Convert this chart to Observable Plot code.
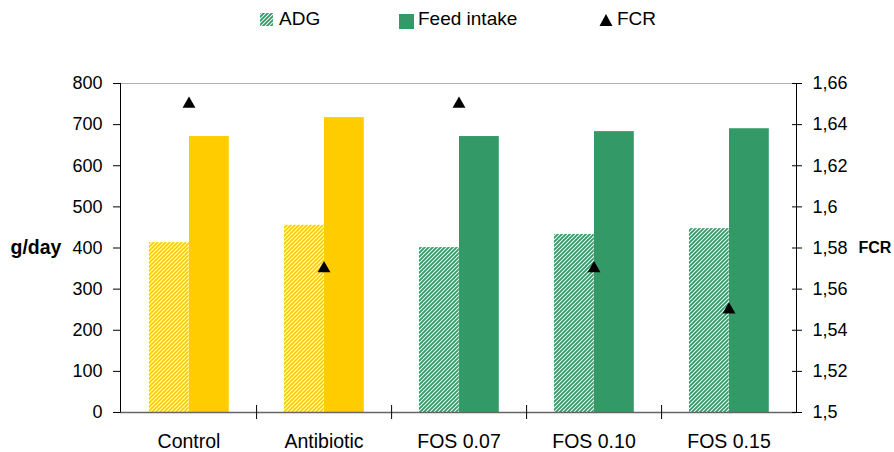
<!DOCTYPE html>
<html>
<head>
<meta charset="utf-8">
<script src="https://cdn.jsdelivr.net/npm/d3@7"></script>
<script src="https://cdn.jsdelivr.net/npm/@observablehq/plot@0.6"></script>
<style>
  html, body { margin: 0; padding: 0; background: #fff; }
  body { width: 894px; height: 452px; overflow: hidden; font-family: "Liberation Sans", Arial, sans-serif; }
  #legend { position: relative; height: 36px; width: 894px; font-size: 19px; color: #000; }
  #legend svg { position: absolute; }
  #legend span { position: absolute; top: 8px; white-space: nowrap; line-height: 22px; }
</style>
</head>
<body>
<div id="legend"></div>
<div id="chart"></div>
<script>
// ---- data ----
const categories = ["Control", "Antibiotic", "FOS 0.07", "FOS 0.10", "FOS 0.15"];
const adg = [413, 455, 401, 433, 447];          // g/day
const feedIntake = [671, 717, 671, 683, 690];   // g/day
const fcr = [1.65, 1.57, 1.65, 1.57, 1.55];     // right axis
const gTicks = [0, 100, 200, 300, 400, 500, 600, 700, 800];
const fcrTicks = [1.5, 1.52, 1.54, 1.56, 1.58, 1.6, 1.62, 1.64, 1.66];
const legendLabels = ["ADG", "Feed intake", "FCR"];

// ---- styles ----
const yellow = "#FFCC00";
const green = "#339966";
const colorOf = c => (c === "Control" || c === "Antibiotic") ? yellow : green;
const hatchOf = c => (c === "Control" || c === "Antibiotic") ? "url(#hatch-yellow)" : "url(#hatch-green)";

// FCR mapped onto the left scale's domain
const fcrMin = fcrTicks[0], fcrMax = fcrTicks[fcrTicks.length - 1];
const gMax = gTicks[gTicks.length - 1];
const toY = v => (v - fcrMin) / (fcrMax - fcrMin) * gMax;
const fromY = y => fcrMin + y / gMax * (fcrMax - fcrMin);
const fmtFcr = v => String(+v.toFixed(2)).replace(".", ",");

const data = categories.map((c, i) => ({category: c, adg: adg[i], feed: feedIntake[i], fcr: fcr[i]}));

const W = 894, H = 416, ML = 120, MR = 98, MT = 47, MB = 40;
const step = (W - ML - MR) / categories.length;

const SVGNS = "http://www.w3.org/2000/svg";
function el(name, attrs) {
  const e = document.createElementNS(SVGNS, name);
  for (const k in attrs) e.setAttribute(k, attrs[k]);
  return e;
}
function makePattern(id, color) {
  const p = el("pattern", {id, patternUnits: "userSpaceOnUse", width: 4, height: 4});
  p.appendChild(el("rect", {width: 4, height: 4, fill: "#fff"}));
  p.appendChild(el("path", {d: "M-1,1 L1,-1 M0,4 L4,0 M3,5 L5,3", stroke: color, "stroke-width": 1.9}));
  return p;
}

function defsMark() {
  const g = el("g", {});
  const defs = el("defs", {});
  defs.appendChild(makePattern("hatch-yellow", yellow));
  defs.appendChild(makePattern("hatch-green", green));
  g.appendChild(defs);
  return g;
}
function axisLines(index, scales, values, dims) {
  const g = el("g", {stroke: "#000", "stroke-width": 1});
  const x0 = dims.marginLeft + 0.5, x1 = dims.width - dims.marginRight + 0.5;
  const yt = dims.marginTop, yb = dims.height - dims.marginBottom;
  g.appendChild(el("line", {x1: x0, x2: x0, y1: yt, y2: yb + 0.5}));
  g.appendChild(el("line", {x1: x1, x2: x1, y1: yt, y2: yb + 0.5}));
  return g;
}

const chart = Plot.plot({
  width: W, height: H,
  marginLeft: ML, marginRight: MR, marginTop: MT, marginBottom: MB,
  style: {fontFamily: "Liberation Sans, Arial, sans-serif", color: "#000", background: "#fff"},
  x: {domain: categories, padding: 0, axis: null},
  y: {domain: [0, gMax], axis: null},
  color: {type: "identity"},
  marks: [
    defsMark,
    Plot.ruleY([gMax], {stroke: "#b0b0b0", strokeWidth: 1}),
    Plot.barY(data, {x: "category", y: "adg", fill: d => hatchOf(d.category), insetLeft: 28, insetRight: step - 68}),
    Plot.barY(data, {x: "category", y: "feed", fill: d => colorOf(d.category), insetLeft: 68, insetRight: step - 108}),
    Plot.ruleY([0], {stroke: "#666", strokeWidth: 1.6}),
    axisLines,
    Plot.axisY(gTicks, {anchor: "left", tickSize: 7, tickPadding: 11, fontSize: 18, label: null}),
    Plot.axisY(fcrTicks.map(toY), {anchor: "right", tickSize: 10, dx: -5, tickPadding: 11, fontSize: 18, label: null,
      tickFormat: d => fmtFcr(fromY(d))}),
    Plot.axisX({anchor: "bottom", tickSize: 0, tickPadding: 22, fontSize: 19.5, label: null}),
    Plot.axisX(categories.slice(0, categories.length - 1), {anchor: "bottom", tickSize: 14, dx: step / 2, dy: -7, tickFormat: null, label: null}),
    Plot.dot(data, {x: "category", y: d => toY(d.fcr), symbol: "triangle", r: 4.8, fill: "#000", stroke: "none"}),
    Plot.text(["g/day"], {frameAnchor: "left", y: gTicks[4], dx: -110, textAnchor: "start", fontWeight: "bold", fontSize: 19.5}),
    Plot.text(["FCR"], {frameAnchor: "right", y: gTicks[4], dx: 62, textAnchor: "start", fontWeight: "bold", fontSize: 16})
  ]
});
document.getElementById("chart").appendChild(chart);

// ---- legend ----
const lg = d3.select(document.getElementById("legend"));
function addSwatch(left, top, w, h, draw) {
  const s = lg.append("svg").attr("width", w).attr("height", h).style("left", left + "px").style("top", top + "px");
  draw(s);
}
addSwatch(260, 13, 13, 13, s => {
  s.append("defs").node().appendChild(makePattern("hatch-legend", green));
  s.append("rect").attr("width", 13).attr("height", 13).attr("fill", "url(#hatch-legend)");
});
addSwatch(399, 14, 15, 15, s => s.append("rect").attr("width", 15).attr("height", 15).attr("fill", green));
addSwatch(599, 13, 14, 14, s => s.append("path").attr("d", "M7,1 L13.5,13 L0.5,13 Z").attr("fill", "#000"));
const textLefts = [279, 418, 617];
legendLabels.forEach((t, i) => lg.append("span").style("left", textLefts[i] + "px").text(t));
</script>
</body>
</html>
